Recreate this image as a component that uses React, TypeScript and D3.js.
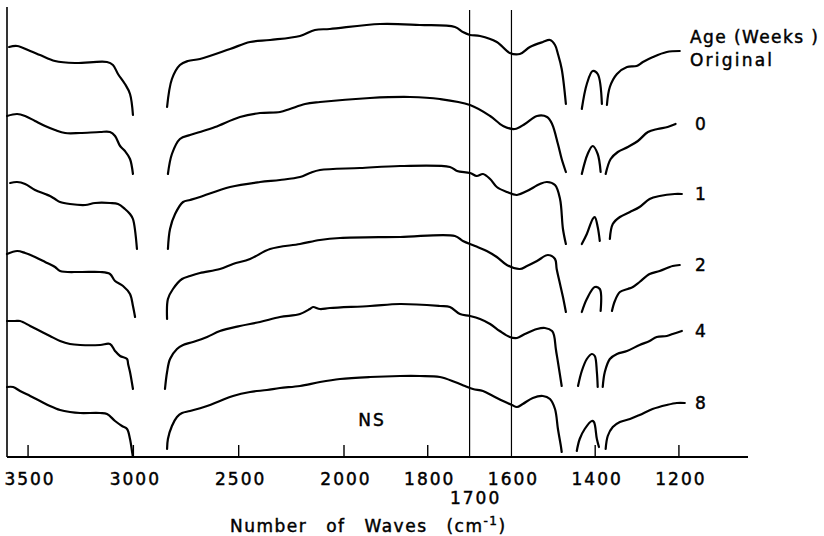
import React, { useEffect } from 'react';
import * as d3 from 'd3';

type Pt = [number, number];

// wavenumber (cm-1), relative transmittance units; each curve is split where the trace runs off scale
const original: Pt[][] = [
  [[3590, 410], [3552, 411], [3490, 406], [3443, 402], [3372, 396], [3277, 394], [3125, 395], [3097, 392], [3073, 383], [3040, 373], [3016, 363], [3002, 342]],
  [[2840, 350], [2817, 378], [2779, 392], [2741, 396], [2684, 398], [2541, 408], [2446, 415], [2351, 417], [2209, 421], [2138, 427], [2067, 428], [1914, 433], [1819, 432], [1735, 430], [1716, 425], [1699, 422], [1675, 421], [1635, 415], [1604, 404], [1580, 403], [1556, 410], [1525, 415], [1508, 417], [1496, 412], [1489, 403], [1480, 388], [1470, 353]],
  [[1432, 348], [1420, 373], [1406, 386], [1394, 383], [1384, 353]],
  [[1372, 352], [1365, 370], [1348, 383], [1324, 390], [1301, 391], [1286, 395], [1262, 400], [1229, 405], [1198, 406]],
];

const week0: Pt[][] = [
  [[3600, 341], [3552, 343], [3514, 341], [3467, 336], [3419, 331], [3372, 327], [3324, 324], [3253, 324], [3158, 325], [3111, 325], [3087, 321], [3063, 311], [3040, 306], [3016, 298], [3002, 283]],
  [[2836, 283], [2817, 303], [2779, 318], [2731, 322], [2684, 325], [2612, 330], [2494, 340], [2399, 344], [2304, 345], [2257, 348], [2185, 353], [2114, 355], [1938, 359], [1842, 360], [1771, 358], [1699, 352], [1651, 341], [1620, 331], [1592, 328], [1568, 333], [1539, 341], [1515, 340], [1503, 333], [1489, 313], [1480, 298], [1470, 285]],
  [[1432, 283], [1418, 303], [1406, 311], [1394, 303], [1387, 285]],
  [[1375, 283], [1363, 298], [1346, 305], [1322, 310], [1298, 316], [1274, 325], [1251, 328], [1227, 330], [1208, 333]],
];

const week1: Pt[][] = [
  [[3585, 274], [3552, 275], [3514, 273], [3467, 267], [3419, 263], [3396, 261], [3372, 258], [3348, 255], [3301, 253], [3229, 252], [3182, 254], [3111, 254], [3073, 253], [3040, 248], [3016, 243], [3002, 238], [2983, 208]],
  [[2836, 208], [2826, 228], [2802, 243], [2764, 255], [2731, 257], [2684, 260], [2541, 270], [2399, 275], [2304, 277], [2209, 280], [2162, 284], [2114, 287], [1962, 289], [1866, 291], [1747, 290], [1730, 286], [1699, 284], [1683, 281], [1668, 283], [1651, 278], [1635, 270], [1611, 265], [1587, 262], [1563, 266], [1532, 273], [1515, 275], [1496, 272], [1484, 258], [1477, 228], [1470, 213]],
  [[1432, 213], [1420, 223], [1406, 238], [1401, 240], [1394, 230], [1389, 216]],
  [[1365, 218], [1358, 233], [1341, 240], [1317, 245], [1294, 250], [1270, 258], [1246, 261], [1210, 263], [1193, 263]],
];

const week2: Pt[][] = [
  [[3600, 203], [3552, 206], [3514, 204], [3467, 200], [3419, 195], [3372, 190], [3348, 186], [3253, 185], [3158, 185], [3111, 183], [3087, 176], [3049, 171], [3016, 163], [3002, 151], [2992, 140]],
  [[2840, 138], [2836, 158], [2812, 168], [2769, 178], [2731, 181], [2684, 184], [2589, 188], [2527, 193], [2446, 198], [2351, 208], [2209, 213], [2114, 217], [2019, 219], [1866, 220], [1735, 221], [1716, 216], [1687, 211], [1659, 206], [1635, 200], [1611, 192], [1580, 188], [1563, 191], [1539, 196], [1513, 202], [1496, 198], [1492, 188], [1484, 173], [1477, 160], [1470, 145]],
  [[1432, 145], [1420, 158], [1401, 170], [1389, 168], [1387, 146]],
  [[1360, 146], [1353, 156], [1341, 165], [1322, 168], [1310, 170], [1294, 175], [1270, 183], [1246, 186], [1215, 191], [1198, 192]],
];

const week4: Pt[][] = [
  [[3600, 136], [3562, 136], [3538, 136], [3490, 131], [3443, 126], [3396, 121], [3348, 116], [3301, 113], [3253, 112], [3158, 112], [3111, 113], [3087, 106], [3063, 101], [3030, 98], [3025, 93], [3016, 85], [3002, 68]],
  [[2850, 68], [2840, 85], [2826, 98], [2793, 108], [2764, 112], [2717, 115], [2650, 120], [2589, 126], [2494, 131], [2399, 135], [2304, 140], [2209, 143], [2162, 148], [2147, 150], [2114, 148], [2067, 149], [1938, 151], [1866, 153], [1771, 151], [1747, 150], [1723, 143], [1699, 141], [1675, 138], [1651, 133], [1628, 126], [1604, 120], [1587, 119], [1568, 123], [1539, 128], [1520, 129], [1503, 126], [1498, 121], [1494, 108], [1489, 95], [1480, 71]],
  [[1441, 71], [1432, 86], [1420, 98], [1408, 103], [1401, 101], [1396, 85], [1394, 70]],
  [[1382, 70], [1377, 85], [1365, 98], [1348, 103], [1324, 106], [1294, 112], [1270, 116], [1253, 120], [1229, 121], [1215, 123], [1193, 126]],
];

const week8: Pt[][] = [
  [[3600, 70], [3571, 70], [3538, 66], [3490, 61], [3443, 56], [3396, 51], [3348, 47], [3301, 45], [3253, 44], [3158, 44], [3125, 43], [3087, 36], [3054, 31], [3030, 28], [3016, 18], [3006, 5], [3002, 0]],
  [[2840, 8], [2836, 18], [2817, 31], [2793, 40], [2769, 44], [2731, 46], [2650, 51], [2589, 56], [2527, 61], [2446, 65], [2366, 67], [2304, 69], [2209, 71], [2114, 75], [2019, 78], [1938, 80], [1866, 81], [1819, 81], [1771, 80], [1735, 75], [1711, 71], [1692, 68], [1668, 66], [1644, 61], [1620, 56], [1599, 52], [1587, 50], [1573, 53], [1549, 59], [1525, 61], [1508, 58], [1496, 48], [1489, 28], [1482, 11], [1480, 5]],
  [[1444, 6], [1437, 18], [1425, 28], [1408, 36], [1403, 35], [1396, 18], [1391, 10]],
  [[1375, 8], [1370, 21], [1358, 30], [1341, 35], [1317, 38], [1294, 42], [1263, 48], [1229, 52], [1205, 54], [1186, 54]],
];

const spectra = [original, week0, week1, week2, week4, week8];
const ageLabels = ['Original', '0', '1', '2', '4', '8'];

const tickValues = [3500, 3000, 2500, 2000, 1800, 1400, 1200];
const upperLabels = [3500, 3000, 2500, 2000, 1800, 1600, 1400, 1200];
const lowerLabels = [1700];
const markerLines = [1700, 1600];

const W = 824;
const H = 536;
const FONT = '"DejaVu Sans", sans-serif';

const App = () => {
  useEffect(() => {
    document.body.style.margin = '0';
  }, []);

  // chart expands the scale below 2000 cm-1 (as the spectrometer does)
  const x = d3.scaleLinear().domain([3600, 2000, 1035]).range([7, 344, 748]);
  const y = d3.scaleLinear().domain([0, 450]).range([457, 7]);

  const line = d3
    .line<Pt>()
    .x((d) => x(d[0]))
    .y((d) => y(d[1]))
    .curve(d3.curveCatmullRom.alpha(0.5));

  const base = y(0);

  return (
    <svg width={W} height={H} style={{ display: 'block', background: '#fff' }}>
      {/* axes */}
      <line x1={x(3600)} x2={x(3600)} y1={y(450)} y2={base} stroke="#000" strokeWidth={1.6} />
      <line x1={x(3600)} x2={x(1035)} y1={base} y2={base} stroke="#000" strokeWidth={1.8} />
      {tickValues.map((t) => (
        <line key={t} x1={x(t)} x2={x(t)} y1={base} y2={base - 12} stroke="#000" strokeWidth={1.4} />
      ))}
      {markerLines.map((m) => (
        <line key={m} x1={x(m)} x2={x(m)} y1={y(447)} y2={base} stroke="#000" strokeWidth={1.2} />
      ))}

      {/* spectra */}
      {spectra.map((segs, i) => (
        <g key={i}>
          {segs.map((s, j) => (
            <path key={j} d={line(s) || ''} fill="none" stroke="#000" strokeWidth={2.2} strokeLinecap="round" strokeLinejoin="round" />
          ))}
        </g>
      ))}

      <g fontFamily={FONT} fontSize={17} fill="#000" stroke="#000" strokeWidth={0.45} letterSpacing={2}>
        {upperLabels.map((t) => (
          <text key={t} x={x(t) + 2} y={485} textAnchor="middle">
            {t}
          </text>
        ))}
        {lowerLabels.map((t) => (
          <text key={t} x={x(t) + 6} y={504} textAnchor="middle">
            {t}
          </text>
        ))}

        {spectra.map((segs, i) => {
          const last = segs[segs.length - 1];
          const endV = last[last.length - 1][1];
          if (i === 0) {
            return (
              <g key={i} letterSpacing={0}>
                <text x={690} y={43} textLength={128} lengthAdjust="spacing">Age (Weeks )</text>
                <text x={690} y={66} textLength={82} lengthAdjust="spacing">{ageLabels[i]}</text>
              </g>
            );
          }
          return (
            <text key={i} x={695} y={y(endV) + 6}>
              {ageLabels[i]}
            </text>
          );
        })}

        <text x={372} y={426} textAnchor="middle">NS</text>

        <text x={230} y={532} wordSpacing={12} letterSpacing={1.5}>
          Number of Waves (cm
          <tspan fontSize={12} dy={-7}>-1</tspan>
          <tspan dy={7}>)</tspan>
        </text>
      </g>
    </svg>
  );
};

export default App;
